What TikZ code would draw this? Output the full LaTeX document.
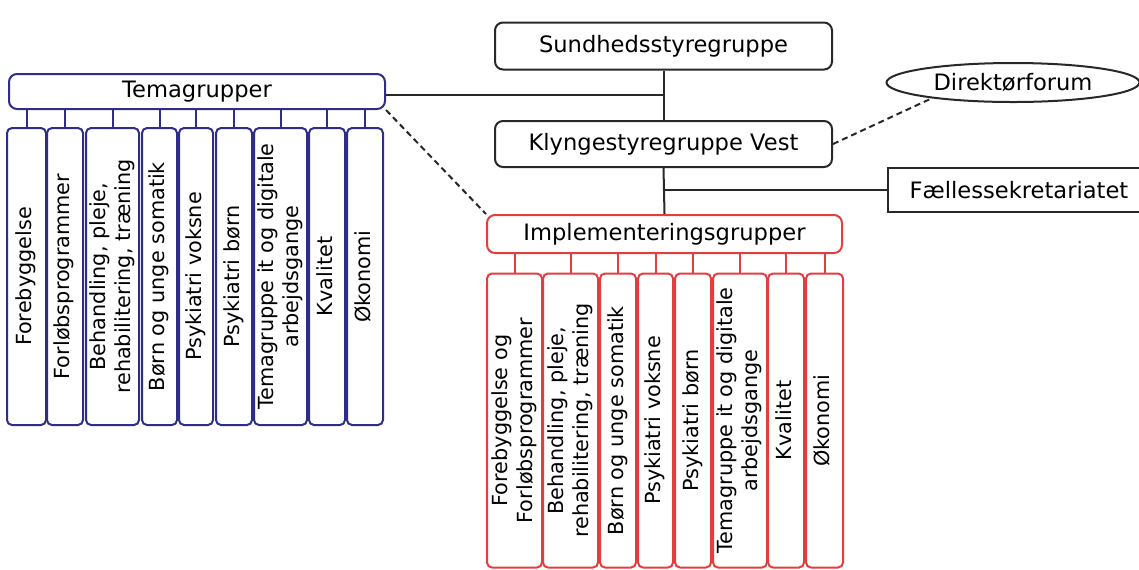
\documentclass[tikz,border=0pt]{standalone}
\usepackage{fontspec}
\setmainfont{DejaVu Sans}
\usetikzlibrary{shapes}
\definecolor{temablaa}{RGB}{46,46,138}
\definecolor{implroed}{RGB}{226,62,62}
\definecolor{streg}{RGB}{40,40,40}
\newcommand{\lodret}[1]{\rotatebox{90}{\begin{tabular}{@{}c@{}}#1\end{tabular}}}

\begin{document}
\begin{tikzpicture}[x=0.5pt, y=-0.5pt,
        hovedboks/.style={draw=streg, line width=1pt, rounded corners=4pt, inner sep=0pt,
            font=\fontsize{11.3}{13}\selectfont},
        underboks/.style={line width=1pt, rounded corners=2.5pt, inner sep=0pt,
            font=\fontsize{10.4}{12.5}\selectfont},
        forbind/.style={draw=streg, line width=1pt}]
        \useasboundingbox (0,0) rectangle (1139,569);
        \clip (0,0) rectangle (1139,569);

        \node[hovedboks, minimum width=168.5pt, minimum height=23.5pt] (styr) at (663.5,46) {Sundhedsstyregruppe};
        \node[hovedboks, minimum width=168.5pt, minimum height=23pt] (klynge) at (663.5,144) {Klyngestyregruppe Vest};
        \node[hovedboks, draw=temablaa, minimum width=188pt, minimum height=17.5pt] (tema) at (197,91.5) {Temagrupper};
        \node[hovedboks, draw=implroed, minimum width=177.5pt, minimum height=19pt] (impl) at (664.5,234) {Implementeringsgrupper};
        \node[hovedboks, ellipse, rounded corners=0pt, minimum width=126.5pt, minimum height=19.5pt] (direktor) at (1013,82.5) {Direktørforum};
        \node[hovedboks, rounded corners=0pt, minimum width=131pt, minimum height=22pt] (sekr) at (1019,190) {Fællessekretariatet};

        \coordinate (kryds1) at (styr.south |- 0,95);
        \coordinate (kryds2) at (klynge.south |- sekr.west);
        \draw[forbind] (styr.south) -- (klynge.north);
        \draw[forbind] (klynge.south) -- (impl.north);
        \draw[forbind] (tema.east |- kryds1) -- (kryds1);
        \draw[forbind] (kryds2) -- (sekr.west);
        \draw[forbind, dash pattern=on 3pt off 2pt] (tema.south east) -- (impl.north west);
        \draw[forbind, dash pattern=on 3pt off 2pt] (klynge.east) -- (direktor.191);

        \foreach \navn/\x/\bredde/\tekst in {
                t1/26.5/39/Forebyggelse,
                t2/65/36/Forløbsprogrammer,
                t3/112.5/53/{Behandling, pleje,\\rehabilitering, træning},
                t4/159.5/35/Børn og unge somatik,
                t5/196/34/Psykiatri voksne,
                t6/234/36/Psykiatri børn,
                t7/280.5/53/{Temagruppe it og digitale\\arbejdsgange},
                t8/327/36/Kvalitet,
                t9/365/36/Økonomi} {
            \node[underboks, draw=temablaa, minimum width={\bredde*0.5pt}, minimum height=148.5pt] (\navn) at (\x,276.5) {\lodret{\tekst}};
            \draw[line width=1pt, temablaa] (\navn.north) -- (\navn.north |- tema.south);
        }

        \foreach \navn/\x/\bredde/\tekst in {
                i1/514.5/55/{Forebyggelse og\\Forløbsprogrammer},
                i2/570.5/55/{Behandling, pleje,\\rehabilitering, træning},
                i3/618/36/Børn og unge somatik,
                i4/655.5/35/Psykiatri voksne,
                i5/693/36/Psykiatri børn,
                i6/740/54/{Temagruppe it og digitale\\arbejdsgange},
                i7/786/36/Kvalitet,
                i8/824.5/37/Økonomi} {
            \node[underboks, draw=implroed, minimum width={\bredde*0.5pt}, minimum height=147pt] (\navn) at (\x,420.5) {\lodret{\tekst}};
            \draw[line width=1pt, implroed] (\navn.north) -- (\navn.north |- impl.south);
        }
\end{tikzpicture}
\end{document}
